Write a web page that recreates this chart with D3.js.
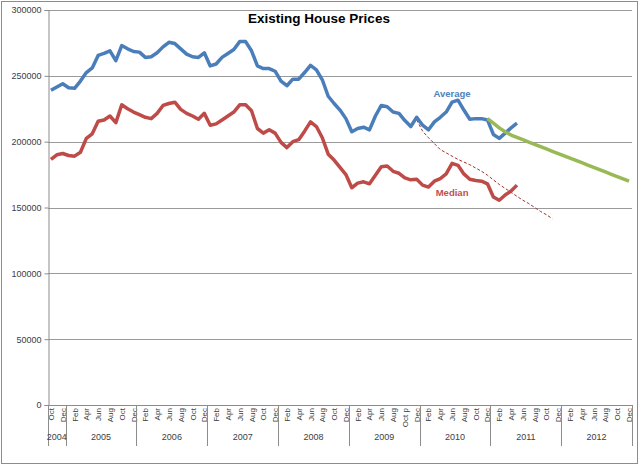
<!DOCTYPE html>
<html>
<head>
<meta charset="utf-8">
<script src="https://cdn.jsdelivr.net/npm/d3@7"></script>
<style>
  body { margin: 0; background: #fff; }
  text { font-family: "Liberation Sans", Arial, sans-serif; }
</style>
</head>
<body>
<div class="chart"></div>
<script>
// categories: Oct 2004 .. Dec 2012, one per month
const years = [2004, 2005, 2006, 2007, 2008, 2009, 2010, 2011, 2012];
const monthNames = ['Jan','Feb','Mar','Apr','May','Jun','Jul','Aug','Sep','Oct','Nov','Dec'];
const yTicks = [0, 50000, 100000, 150000, 200000, 250000, 300000];

const average = [239000, 241500, 244000, 241000, 240500, 246000, 252500, 256000, 265500, 267000,
  269000, 261500, 273000, 270500, 268500, 268000, 264000, 264500, 267500, 272000,
  275500, 274500, 270500, 266500, 264500, 264000, 267500, 257500, 259000, 264000,
  267000, 270000, 276000, 276000, 269000, 257500, 255500, 255500, 253500, 246000,
  242500, 247500, 247500, 252500, 258000, 254500, 247000, 234500, 229000, 224000,
  217500, 207500, 210000, 211000, 209000, 219500, 227500, 226500, 222500, 221500,
  216000, 211500, 218500, 212500, 209000, 215000, 218500, 222500, 230000, 231500,
  224000, 217000, 217500, 217500, 216500, 205500, 202500, 206500, 210500, 214000];

const median = [186500, 190000, 191000, 189500, 189000, 192000, 202500, 206000, 215500, 216500,
  219500, 214500, 228000, 225000, 222500, 220500, 218500, 217500, 221500, 227500,
  229000, 230000, 224500, 221500, 219500, 217000, 221500, 212500, 213500, 216500,
  219500, 222500, 228000, 228000, 223500, 210000, 206500, 209000, 206500, 199500,
  195500, 200000, 201500, 208000, 215000, 211500, 203000, 190500, 186000, 180500,
  175000, 165000, 168500, 169500, 168000, 174500, 181000, 181500, 177500, 176000,
  172500, 171000, 171500, 167000, 165500, 170000, 172000, 175500, 183500, 182000,
  175500, 171500, 170500, 170000, 168000, 158000, 155500, 159500, 162500, 167000];

// green forecast starts Dec 2010 (index 74)
const forecastStart = 74;
const forecast = [217500, 214000, 210500, 207500, 205000, 203200, 201500, 199700, 198000, 196200,
  194500, 192700, 191000, 189200, 187500, 185700, 184000, 182200, 180500, 178700,
  177000, 175200, 173500, 171700, 170000];

// dashed median trend starts Dec 2009 (index 62)
const trendStart = 62;
const trend = [216500, 208000, 203000, 198500, 194000, 191500, 189000, 186500, 184500, 182500,
  180000, 177500, 174500, 171000, 167500, 164500, 161500, 158500, 155500, 153000,
  150000, 147000, 144500, 141500];

const cats = [];
years.forEach(function(yr){
  monthNames.forEach(function(m, mi){
    if (yr === 2004 && mi < 9) return;
    cats.push({year: yr, month: m});
  });
});

const w = 640, h = 465;
const padL = 48, padR = 632, padT = 10, padB = 405;

const svg = d3.select('div.chart').append('svg')
  .attr('width', w).attr('height', h);

svg.append('rect')
  .attr('x', 1.5).attr('y', 1.5).attr('width', 636).attr('height', 462)
  .attr('fill', '#fff').attr('stroke', '#8c8c8c').attr('stroke-width', 1);

const xBand = d3.scaleBand().domain(d3.range(cats.length)).range([padL, padR]).padding(0);
const xPos = (i) => xBand(i) + xBand.bandwidth() / 2;
const yScale = d3.scaleLinear().domain([0, 300000]).range([padB, padT]);

// gridlines
svg.append('g').selectAll('line').data(yTicks.slice(1)).enter().append('line')
  .attr('x1', padL).attr('x2', padR)
  .attr('y1', (d) => Math.round(yScale(d)) + 0.5).attr('y2', (d) => Math.round(yScale(d)) + 0.5)
  .attr('stroke', '#9a9a9a').attr('stroke-width', 1);

// y axis
const yAxis = d3.axisLeft(yScale).tickValues(yTicks).tickSize(4).tickPadding(3).tickFormat(d3.format('d'));
const gy = svg.append('g').attr('transform', 'translate(' + (padL + 0.5) + ',0)').call(yAxis);
gy.select('.domain').attr('stroke', '#8c8c8c');
gy.selectAll('.tick line').attr('stroke', '#8c8c8c');
gy.selectAll('.tick text').attr('font-size', 9).attr('fill', '#404040')
  .attr('font-family', '"Liberation Sans", Arial, sans-serif');

// x axis line
svg.append('line').attr('x1', padL).attr('x2', padR)
  .attr('y1', padB + 0.5).attr('y2', padB + 0.5).attr('stroke', '#8c8c8c');

// month labels every other month
const monthLabel = svg.append('g');
cats.forEach(function(c, i){
  if (i % 2 !== 0) return;
  let lab = c.month;
  if (c.year === 2009 && c.month === 'Oct') lab = 'Oct p';
  monthLabel.append('text')
    .attr('transform', 'translate(' + (xPos(i) + 3) + ',' + (padB + 3) + ') rotate(-90)')
    .attr('text-anchor', 'end')
    .attr('font-size', 8)
    .attr('fill', '#404040')
    .text(lab);
});

// year groups and separators
const yearGroups = years.map(function(yr){
  const idx = cats.map((c, i) => c.year === yr ? i : -1).filter((i) => i >= 0);
  return {year: yr, first: idx[0], last: idx[idx.length - 1]};
});
const sepX = [padL].concat(yearGroups.map((g) => xBand(g.last) + xBand.bandwidth()));
svg.append('g').selectAll('line').data(sepX).enter().append('line')
  .attr('x1', (d) => Math.round(d) + 0.5).attr('x2', (d) => Math.round(d) + 0.5)
  .attr('y1', padB).attr('y2', padB + 41)
  .attr('stroke', '#8c8c8c');
svg.append('g').selectAll('text').data(yearGroups).enter().append('text')
  .attr('x', (d) => (xBand(d.first) + xBand(d.last) + xBand.bandwidth()) / 2)
  .attr('y', padB + 35)
  .attr('text-anchor', 'middle')
  .attr('font-size', 9)
  .attr('fill', '#404040')
  .text((d) => d.year);

// series
const line = d3.line().x((d) => xPos(d.i)).y((d) => yScale(d.v));
const toPts = (arr, start) => arr.map((v, k) => ({i: start + k, v: v}));

svg.append('path').datum(toPts(trend, trendStart))
  .attr('d', line).attr('fill', 'none')
  .attr('stroke', '#a0302c').attr('stroke-width', 1).attr('stroke-dasharray', '3,2');

svg.append('path').datum(toPts(average, 0))
  .attr('d', line).attr('fill', 'none')
  .attr('stroke', '#4a7ebb').attr('stroke-width', 3.5).attr('stroke-linejoin', 'round');

svg.append('path').datum(toPts(median, 0))
  .attr('d', line).attr('fill', 'none')
  .attr('stroke', '#be4b48').attr('stroke-width', 3.5).attr('stroke-linejoin', 'round');

svg.append('path').datum(toPts(forecast, forecastStart))
  .attr('d', line).attr('fill', 'none')
  .attr('stroke', '#98b954').attr('stroke-width', 3.5).attr('stroke-linejoin', 'round');

// labels
svg.append('text')
  .text('Average')
  .attr('x', xPos(68)).attr('y', yScale(234000))
  .attr('text-anchor', 'middle').attr('font-size', 9.5).attr('font-weight', 'bold')
  .attr('fill', '#4f81bd');

svg.append('text')
  .text('Median')
  .attr('x', xPos(68)).attr('y', yScale(159000))
  .attr('text-anchor', 'middle').attr('font-size', 9.5).attr('font-weight', 'bold')
  .attr('fill', '#c0504d');

svg.append('text')
  .text('Existing House Prices')
  .attr('x', 319).attr('y', 23)
  .attr('text-anchor', 'middle').attr('font-size', 13.5).attr('font-weight', 'bold')
  .attr('fill', '#000');
</script>
</body>
</html>
